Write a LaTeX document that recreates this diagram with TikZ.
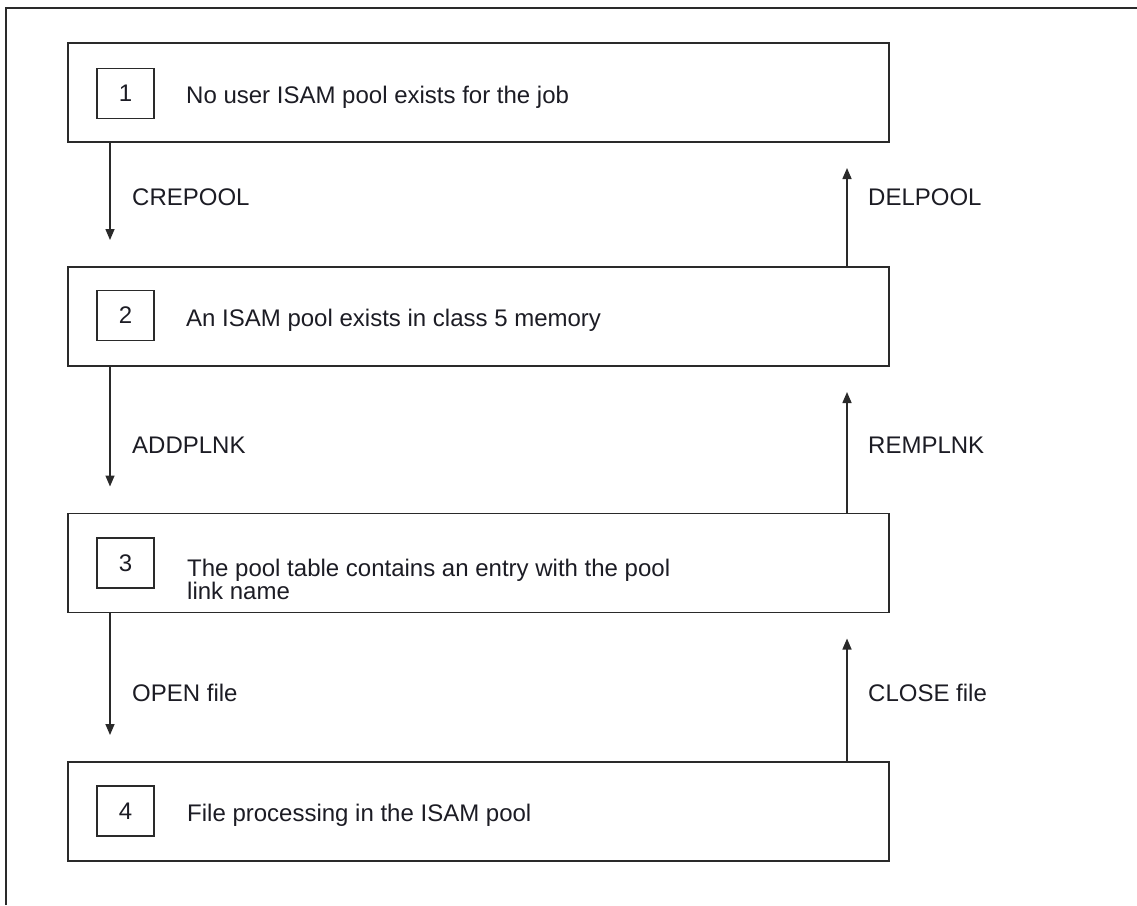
\documentclass[tikz,border=0pt]{standalone}
\usepackage{fontspec}
\setmainfont{Liberation Sans}
\usetikzlibrary{arrows.meta}
\definecolor{ln}{HTML}{2A2A2A}
\definecolor{txt}{HTML}{1C1C24}
\begin{document}
\begin{tikzpicture}[x=1pt,y=-1pt,
  every node/.style={font=\fontsize{24}{23}\selectfont, text=txt},
  state/.style={draw=ln, line width=1.8pt, minimum width=821pt, minimum height=99pt, inner sep=0pt, outer sep=0pt},
  numbox/.style={draw=ln, line width=1.6pt, minimum width=57pt, minimum height=50pt, inner sep=0pt, outer sep=0pt},
  desc/.style={anchor=base west, inner sep=0pt},
  lbl/.style={anchor=base west, inner sep=0pt},
  arr/.style={draw=ln, line width=1.5pt, -{Triangle[length=11pt,width=9pt]}}]
\useasboundingbox (0,0) rectangle (1137,905);
% outer frame (only top and left edges fall inside the picture)
\draw[ln, line width=2pt] (6,905) -- (6,8) -- (1137,8);

% state boxes
\node[state] (b1) at (478.5,92.5) {};
\node[state] (b2) at (478.5,316.5) {};
\node[state] (b3) at (478.5,563) {};
\node[state] (b4) at (478.5,811.5) {};

% number boxes
\node[numbox] (n1) at (125.5,93.5) {1};
\node[numbox] (n2) at (125.5,315.5) {2};
\node[numbox] (n3) at (125.5,563) {3};
\node[numbox] (n4) at (125.5,811) {4};

% descriptions
\node[desc] (t1) at (186,103.5) {No user ISAM pool exists for the job};
\node[desc] (t2) at (186,326) {An ISAM pool exists in class 5 memory};
\node[desc] (t3a) at (187,576) {The pool table contains an entry with the pool};
\node[desc] (t3b) at (187,599) {link name};
\node[desc] (t4) at (187,821.5) {File processing in the ISAM pool};

% down transitions
\draw[arr] ([xshift=42pt]b1.south west) -- ([xshift=42pt,yshift=27pt]b2.north west);
\draw[arr] ([xshift=42pt]b2.south west) -- ([xshift=42pt,yshift=27pt]b3.north west);
\draw[arr] ([xshift=42pt]b3.south west) -- ([xshift=42pt,yshift=27pt]b4.north west);
% up transitions
\draw[arr] ([xshift=-42pt]b2.north east) -- ([xshift=-42pt,yshift=-26pt]b1.south east);
\draw[arr] ([xshift=-42pt]b3.north east) -- ([xshift=-42pt,yshift=-26pt]b2.south east);
\draw[arr] ([xshift=-42pt]b4.north east) -- ([xshift=-42pt,yshift=-26pt]b3.south east);

% transition labels
\node[lbl] (l1) at (132,205) {CREPOOL};
\node[lbl] (l2) at (868,205) {DELPOOL};
\node[lbl] (l3) at (132,453) {ADDPLNK};
\node[lbl] (l4) at (868,453) {REMPLNK};
\node[lbl] (l5) at (132,701) {OPEN file};
\node[lbl] (l6) at (868,701) {CLOSE file};
\end{tikzpicture}
\end{document}
